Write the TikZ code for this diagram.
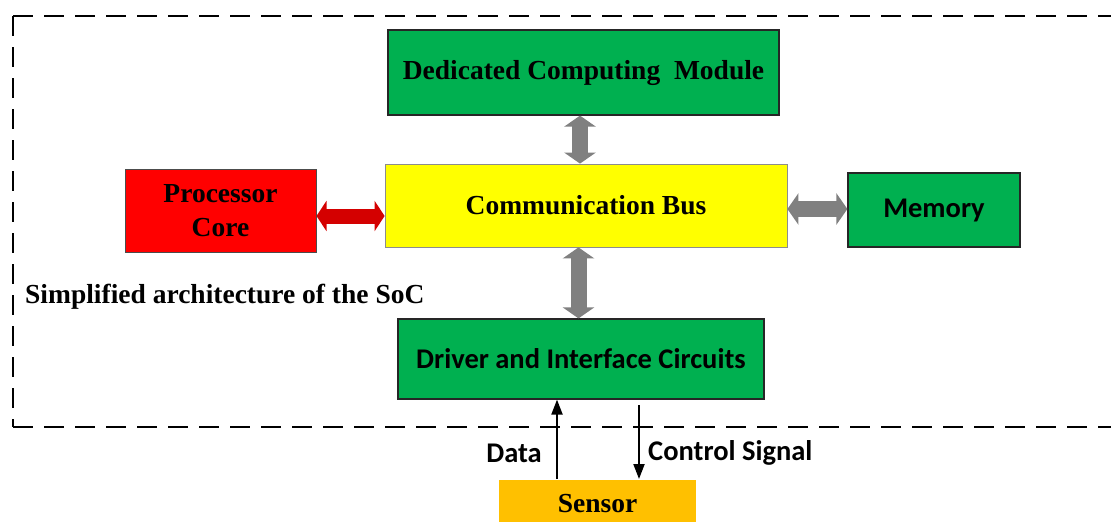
\documentclass[tikz,border=0pt]{standalone}
\usepackage{fontspec}
\setmainfont{Liberation Serif}
\newfontfamily\calfont{Carlito}
\usetikzlibrary{arrows.meta}
\definecolor{bgreen}{HTML}{00B050}
\definecolor{bred}{HTML}{FF0000}
\definecolor{byellow}{HTML}{FFFF00}
\definecolor{borange}{HTML}{FFC000}
\definecolor{agray}{HTML}{808080}
\definecolor{ared}{RGB}{212,0,0}
\tikzset{
  box/.style={draw=black!85, line width=1.2pt, inner sep=0pt, align=center},
  serifbold/.style={font=\fontsize{27.5}{34}\selectfont\bfseries},
  calbold/.style={font=\calfont\fontsize{28.5}{34}\selectfont\bfseries},
  calsig/.style={font=\calfont\fontsize{28.5}{34}\selectfont\bfseries},
  garrow/.style={draw=agray, line width=16pt, {Triangle[width=31pt,length=11pt]}-{Triangle[width=31pt,length=11pt]}},
  rarrow/.style={draw=ared, line width=15pt, {Triangle[width=30pt,length=10pt]}-{Triangle[width=30pt,length=10pt]}},
  sigarrow/.style={draw=black, line width=2pt, -{Triangle[width=11pt,length=15pt]}},
  frame/.style={draw=black, line width=2.5pt, dash pattern=on 20pt off 11pt}
}
\begin{document}
\begin{tikzpicture}[x=1pt,y=-1pt]
\useasboundingbox (0,0) rectangle (1111,522);
\clip (0,0) rectangle (1111,522);
\fill[white] (0,0) rectangle (1111,522);

% dashed SoC frame
\coordinate (ftl) at (13,16);
\coordinate (fbl) at (13,427);
\coordinate (ftr) at (1125,16);
\coordinate (fbr) at (1125,427);
\draw[frame] (ftl) -- (ftr);
\draw[frame] (ftl) -- (fbl);
\draw[frame] (fbl) -- (fbr);

% boxes
\node[box, serifbold, fill=bgreen, minimum width=391pt, minimum height=85pt] (dcm) at (583.5,72.5) {Dedicated Computing\ \ Module};
\node[box, serifbold, fill=bred, draw=black!70, line width=1pt, minimum width=191pt, minimum height=83pt] (proc) at (220.5,210.5) {Processor\\Core};
\node[box, serifbold, fill=byellow, draw=black!45, line width=0.8pt, minimum width=402pt, minimum height=83pt] (bus) at (586,205.5) {Communication Bus};
\node[box, calbold, fill=bgreen, minimum width=172pt, minimum height=74pt] (mem) at (934,210) {Memory};
\node[box, calbold, fill=bgreen, minimum width=366pt, minimum height=80pt] (drv) at (581,359) {Driver and Interface Circuits};
\node[box, serifbold, fill=borange, draw=none, minimum width=197pt, minimum height=48pt, anchor=north] (sen) at (597.5,479) {Sensor};

% label
\node[serifbold, anchor=west, inner sep=0pt] (soc) at (25,297) {Simplified architecture of the SoC};

% block arrows
\coordinate (vx) at (580,0);
\coordinate (vx2) at (578.5,0);
\coordinate (ry) at (0,216);
\coordinate (my) at (0,209);
\draw[garrow] (dcm.south -| vx) -- (bus.north -| vx);
\draw[garrow] (bus.south -| vx2) -- (drv.north -| vx2);
\draw[rarrow] (proc.east |- ry) -- (bus.west |- ry);
\draw[garrow] (bus.east |- my) -- (mem.west |- my);

% signal arrows
\coordinate (dx) at (557,0);
\coordinate (cx) at (639,405);
\draw[sigarrow] (sen.north -| dx) -- (drv.south -| dx);
\draw[sigarrow] (cx) -- (sen.north -| cx);
\node[calsig, anchor=east, inner sep=0pt] (dlab) at (542,453) {Data};
\node[calsig, anchor=west, inner sep=0pt] (clab) at (648,453) {Control Signal};
\end{tikzpicture}
\end{document}
